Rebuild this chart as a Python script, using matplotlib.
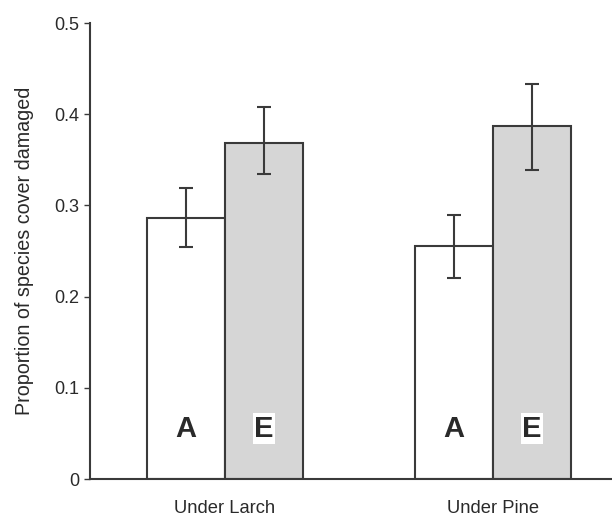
import matplotlib
matplotlib.use("Agg")
import matplotlib.pyplot as plt
import numpy as np

plt.rcParams['font.family'] = ['Liberation Sans', 'DejaVu Sans']

groups = ["Under Larch", "Under Pine"]
series = ["A", "E"]
values_A = [0.286, 0.255]
values_E = [0.368, 0.387]
err_A_low = [0.254, 0.220]
err_A_high = [0.319, 0.289]
err_E_low = [0.334, 0.339]
err_E_high = [0.408, 0.433]
yticks = [0, 0.1, 0.2, 0.3, 0.4, 0.5]
ytick_labels = ["0", "0.1", "0.2", "0.3", "0.4", "0.5"]

edge = "#3a3a3a"
txt = "#2a2a2a"
fig = plt.figure(figsize=(6.12, 5.19), dpi=100)
ax = fig.add_axes([90/612, 1-479/519, 1-90/612, (479-23)/519])

x = np.arange(len(groups))
w = 0.29
xa = x - w/2
xe = x + w/2

ax.bar(xa, values_A, width=w, color="white", edgecolor=edge, linewidth=1.5, zorder=2)
ax.bar(xe, values_E, width=w, color="#d6d6d6", edgecolor=edge, linewidth=1.5, zorder=2)

for xs, v, lo, hi in [(xa, values_A, err_A_low, err_A_high), (xe, values_E, err_E_low, err_E_high)]:
    v = np.array(v)
    yerr = np.vstack([v - np.array(lo), np.array(hi) - v])
    ax.errorbar(xs, v, yerr=yerr, fmt="none", ecolor=edge, elinewidth=1.5,
                capsize=5, capthick=1.5, zorder=3)

for xs, lab in [(xa, "A"), (xe, "E")]:
    for xi in xs:
        t = ax.text(xi, 0.055, lab, ha="center", va="center", fontsize=21,
                    fontweight="bold", color=txt, zorder=4)
        if lab == "E":
            t.set_bbox(dict(facecolor="white", edgecolor="none", pad=1.0))

ax.set_xlim(-0.504, 1.444)
ax.set_ylim(0, 0.5)
ax.set_yticks(yticks)
ax.set_yticklabels(ytick_labels, fontsize=13, color=txt)
ax.set_xticks(x)
ax.set_xticklabels(groups, fontsize=13.2, color=txt)
ax.tick_params(axis="x", length=0, pad=15)
ax.tick_params(axis="y", length=4, width=1, color=edge, pad=4)
ax.spines["top"].set_visible(False)
ax.spines["right"].set_visible(False)
for s in ["left", "bottom"]:
    ax.spines[s].set_color(edge)
    ax.spines[s].set_linewidth(1.5)
ax.set_ylabel("Proportion of species cover damaged", fontsize=14.2, color=txt, labelpad=14)

fig.savefig("out.png", dpi=100)
